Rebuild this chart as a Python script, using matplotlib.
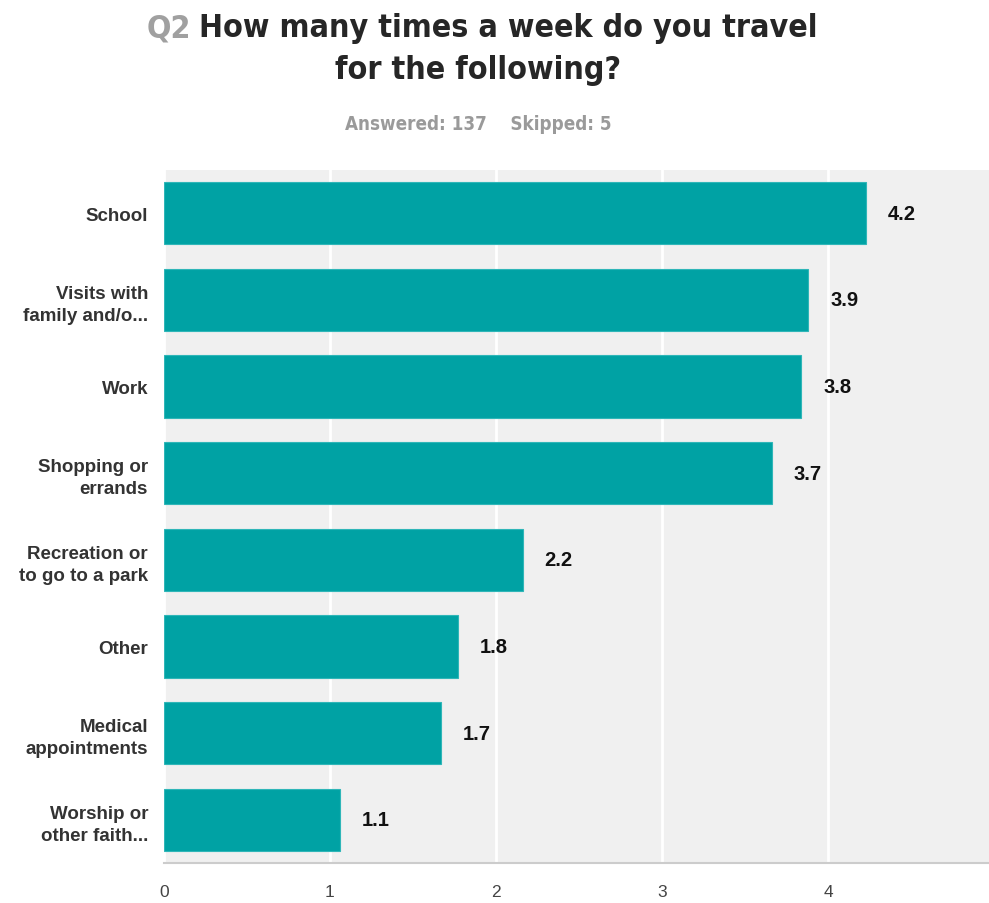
import matplotlib
matplotlib.use("Agg")
import matplotlib.pyplot as plt
from matplotlib import font_manager as fm

categories = ["School", "Visits with\nfamily and/o...", "Work", "Shopping or\nerrands",
              "Recreation or\nto go to a park", "Other", "Medical\nappointments",
              "Worship or\nother faith..."]
values = [4.23, 3.88, 3.84, 3.66, 2.16, 1.77, 1.67, 1.06]
value_labels = ["4.2", "3.9", "3.8", "3.7", "2.2", "1.8", "1.7", "1.1"]
xticks = [0, 1, 2, 3, 4, 5]

W, H = 989, 904
fig = plt.figure(figsize=(W / 100, H / 100), dpi=100)
fig.patch.set_facecolor("white")

left, right, top, bottom = 164, 994, 171, 864
ax = fig.add_axes([left / W, 1 - bottom / H, (right - left) / W, (bottom - top) / H])
ax.set_facecolor("#f0f0f0")

ypos = list(range(len(categories)))
ax.barh(ypos, values, height=0.72, color="#00a2a4", edgecolor="#2fb6b8", linewidth=0.8, zorder=3)
ax.set_ylim(len(categories) - 0.5, -0.5)
ax.set_xlim(0, 5)
ax.set_xticks(xticks)
ax.set_xticklabels([str(t) for t in xticks], fontsize=12.5, color="#444444",
                   family=["Liberation Sans", "DejaVu Sans"])
ax.set_yticks(ypos)
ax.set_yticklabels(categories, fontsize=13.5, fontweight="bold", color="#333333",
                   family=["Liberation Sans", "DejaVu Sans"], linespacing=1.4)
ax.tick_params(axis="both", length=0)
ax.tick_params(axis="y", pad=11.5)
ax.tick_params(axis="x", pad=15)
ax.grid(axis="x", color="white", linewidth=2, zorder=1)
ax.set_axisbelow(True)
for s in ["top", "right", "left"]:
    ax.spines[s].set_visible(False)
ax.spines["bottom"].set_color("#cccccc")
ax.spines["bottom"].set_linewidth(1.5)

for y, v, lab in zip(ypos, values, value_labels):
    ax.annotate(lab, (v, y), xytext=(22, 0), textcoords="offset pixels", ha="left", va="center",
                fontsize=14.5, fontweight="bold", color="#111111",
                family=["Liberation Sans", "DejaVu Sans"], zorder=4)

tprop = fm.FontProperties(family="DejaVu Sans", weight="bold", stretch="condensed", size=23)
sprop = fm.FontProperties(family="DejaVu Sans", weight="bold", stretch="condensed", size=13.5)
split = 199
fig.text((split - 8) / W, 1 - 29 / H, "Q2", ha="right", va="center",
         color="#a0a0a0", fontproperties=tprop)
fig.text(split / W, 1 - 29 / H, "How many times a week do you travel", ha="left", va="center",
         color="#262626", fontproperties=tprop)
fig.text(478 / W, 1 - 70 / H, "for the following?", ha="center", va="center",
         color="#262626", fontproperties=tprop)
fig.text(478 / W, 1 - 125 / H, "Answered: 137    Skipped: 5", ha="center", va="center",
         color="#9a9a9a", fontproperties=sprop)

fig.savefig("out.png", dpi=100)
